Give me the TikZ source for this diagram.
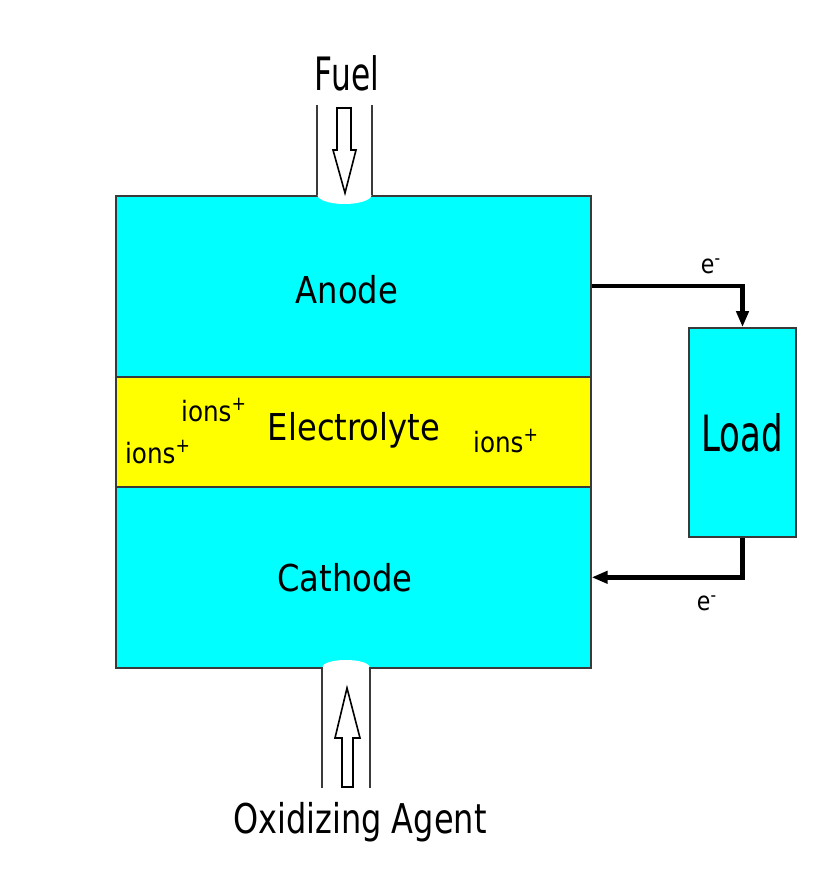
\documentclass[tikz,border=0pt]{standalone}
\usepackage{fontspec}
\usepackage{graphicx}
\setmainfont{DejaVu Sans}
\usetikzlibrary{arrows.meta}
\definecolor{cy}{HTML}{00FFFF}
\definecolor{yl}{HTML}{FFFF00}
\definecolor{bd}{HTML}{3A3A3A}
\newcommand\sqz[2]{\scalebox{#1}[1]{#2}}
\begin{document}
\begin{tikzpicture}[x=0.5pt,y=-0.5pt,
  layer/.style={draw=bd, line width=0.8pt, minimum width=237.5pt, inner sep=0, anchor=north west},
  loadbox/.style={draw=bd, line width=0.8pt, fill=cy, minimum width=53.5pt, minimum height=104.5pt, inner sep=0},
  txt/.style={inner sep=0, text=black},
  wire/.style={line width=2.2pt, -{Triangle[length=8pt,width=6pt]}},
  pipe/.style={line width=0.9pt, draw=bd},
  hollow/.style={draw=black, line width=0.8pt, fill=white, line join=miter}]
\useasboundingbox (0,0) rectangle (823,887);
% layers
\node[layer, fill=cy, minimum height=90.5pt] (anode) at (115,195) {};
\node[layer, fill=yl, minimum height=55pt] (electrolyte) at (115,376) {};
\node[layer, fill=cy, minimum height=90.5pt] (cathode) at (115,486) {};
% pipe openings
\fill[white] (344.5,195) ellipse [x radius=27, y radius=9];
\fill[white] (346,667) ellipse [x radius=23.5, y radius=7];
% pipes
\draw[pipe] (317,105) -- (317,195);
\draw[pipe] (372,105) -- (372,195);
\draw[pipe] (322,667) -- (322,788);
\draw[pipe] (370,667) -- (370,788);
% hollow arrows
\draw[hollow] (337,108) -- (351,108) -- (351,150) -- (356,150) -- (345,193) -- (333,150) -- (337,150) -- cycle;
\draw[hollow] (342,787) -- (353,787) -- (353,738) -- (360,738) -- (347,688) -- (335,738) -- (342,738) -- cycle;
% load
\node[loadbox] (load) at (742.5,432.5) {};
% wires
\draw[wire] (anode.east) -| (load.north);
\draw[wire] (load.south) |- (cathode.east);
% texts
\node[txt, font=\fontsize{23}{27}\selectfont] (fuel) at (347,73) {\sqz{0.68}{Fuel}};
\node[txt, font=\fontsize{20.5}{24}\selectfont] (oxid) at (360,822) {\sqz{0.78}{Oxidizing Agent}};
\node[txt, font=\fontsize{18.5}{22}\selectfont] (tanode) at (347,290) {\sqz{0.87}{Anode}};
\node[txt, font=\fontsize{18.5}{22}\selectfont] (telec) at (354,430) {\sqz{0.87}{Electrolyte}};
\node[txt, font=\fontsize{18.5}{22}\selectfont] (tcath) at (345,578) {\sqz{0.87}{Cathode}};
\node[txt, font=\fontsize{25}{29}\selectfont] (tload) at (742,433) {\sqz{0.68}{Load}};
\node[txt, font=\fontsize{14}{17}\selectfont] (ion1) at (214,410) {\sqz{0.88}{ions\textsuperscript{+}}};
\node[txt, font=\fontsize{14}{17}\selectfont] (ion2) at (158,452) {\sqz{0.88}{ions\textsuperscript{+}}};
\node[txt, font=\fontsize{14}{17}\selectfont] (ion3) at (506,441) {\sqz{0.88}{ions\textsuperscript{+}}};
\node[txt, font=\fontsize{13}{16}\selectfont] (e1) at (711,266) {\sqz{0.85}{e\textsuperscript{-}}};
\node[txt, font=\fontsize{13}{16}\selectfont] (e2) at (707,603) {\sqz{0.85}{e\textsuperscript{-}}};
\end{tikzpicture}
\end{document}
